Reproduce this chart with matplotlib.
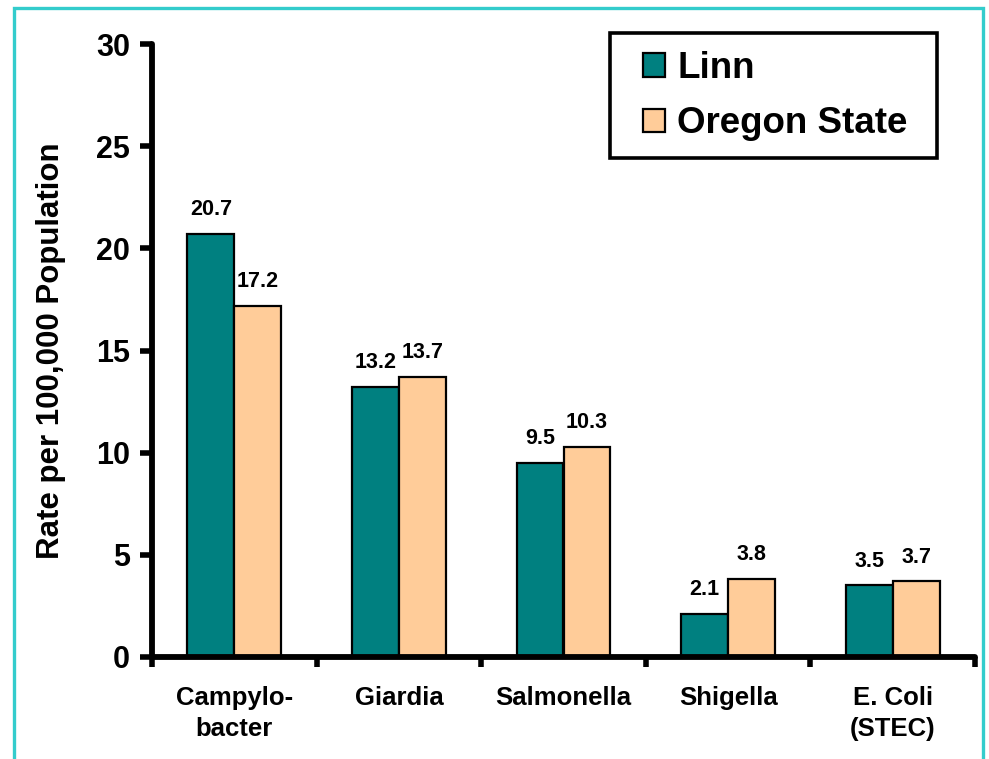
import matplotlib.pyplot as plt
import matplotlib.patches as patches
import numpy as np

plt.rcParams['font.family'] = ['Liberation Sans', 'DejaVu Sans']
plt.rcParams['font.weight'] = 'bold'

# Data
categories = ['Campylo-\nbacter', 'Giardia', 'Salmonella', 'Shigella', 'E. Coli\n(STEC)']
linn = [20.7, 13.2, 9.5, 2.1, 3.5]
oregon = [17.2, 13.7, 10.3, 3.8, 3.7]

W, H = 989, 759
fig = plt.figure(figsize=(W / 100, H / 100), dpi=100)
ax = fig.add_axes([152 / W, 1 - 657 / H, (975 - 152) / W, (657 - 44) / H])

x = np.arange(len(categories))
w = 0.285
b1 = ax.bar(x - w / 2, linn, w, color='#008080', edgecolor='black', linewidth=1.6, label='Linn')
b2 = ax.bar(x + w / 2, oregon, w, color='#FFCC99', edgecolor='black', linewidth=1.6, label='Oregon State')

for bars, vals in [(b1, linn), (b2, oregon)]:
    for bar, v in zip(bars, vals):
        ax.annotate(f'{v}', (bar.get_x() + bar.get_width() / 2, v),
                    xytext=(0, 10), textcoords='offset points',
                    ha='center', va='bottom', fontsize=15.5, fontweight='bold')

ax.set_xlim(-0.5, len(categories) - 0.5)
ax.set_ylim(0, 30)
ax.set_yticks(range(0, 31, 5))
ax.tick_params(axis='y', labelsize=22, length=9, width=4, pad=7)

# ticks at category boundaries, labels at centers
ax.set_xticks(np.arange(-0.5, len(categories), 1.0))
ax.set_xticklabels([])
ax.tick_params(axis='x', which='major', length=7, width=4, direction='out')
ax.set_xticks(x, minor=True)
ax.set_xticklabels(categories, minor=True, fontsize=18.5, fontweight='bold', linespacing=1.35)
ax.tick_params(axis='x', which='minor', length=0, pad=21)

for s in ['top', 'right']:
    ax.spines[s].set_visible(False)
for s in ['left', 'bottom']:
    ax.spines[s].set_linewidth(4.2)
    ax.spines[s].set_capstyle('round')

ax.set_ylabel('Rate per 100,000 Population', fontsize=22.5, fontweight='bold')
ax.yaxis.set_label_coords(-0.104, 0.5)

leg = fig.legend(handles=[b1, b2], loc='upper left', bbox_to_anchor=(643 / W, 1 - 51 / H),
                 fontsize=26.5, frameon=False,
                 handlelength=0.6, handleheight=0.6, handletextpad=0.33,
                 borderpad=0, labelspacing=0.55, borderaxespad=0)
for t in leg.get_texts():
    t.set_fontweight('bold')

# legend box
fig.patches.append(patches.Rectangle((610 / W, 1 - 158 / H), (937 - 610) / W, (158 - 33) / H,
                                     transform=fig.transFigure, fill=False,
                                     edgecolor='black', linewidth=2.6))

# cyan frame around the figure
fig.patches.append(patches.Rectangle((14 / W, -0.1), (983 - 14) / W, 1.1 - 8 / H,
                                     transform=fig.transFigure, fill=False,
                                     edgecolor='#33CCCC', linewidth=2.4, clip_on=False))

plt.savefig('out.png', dpi=100)
